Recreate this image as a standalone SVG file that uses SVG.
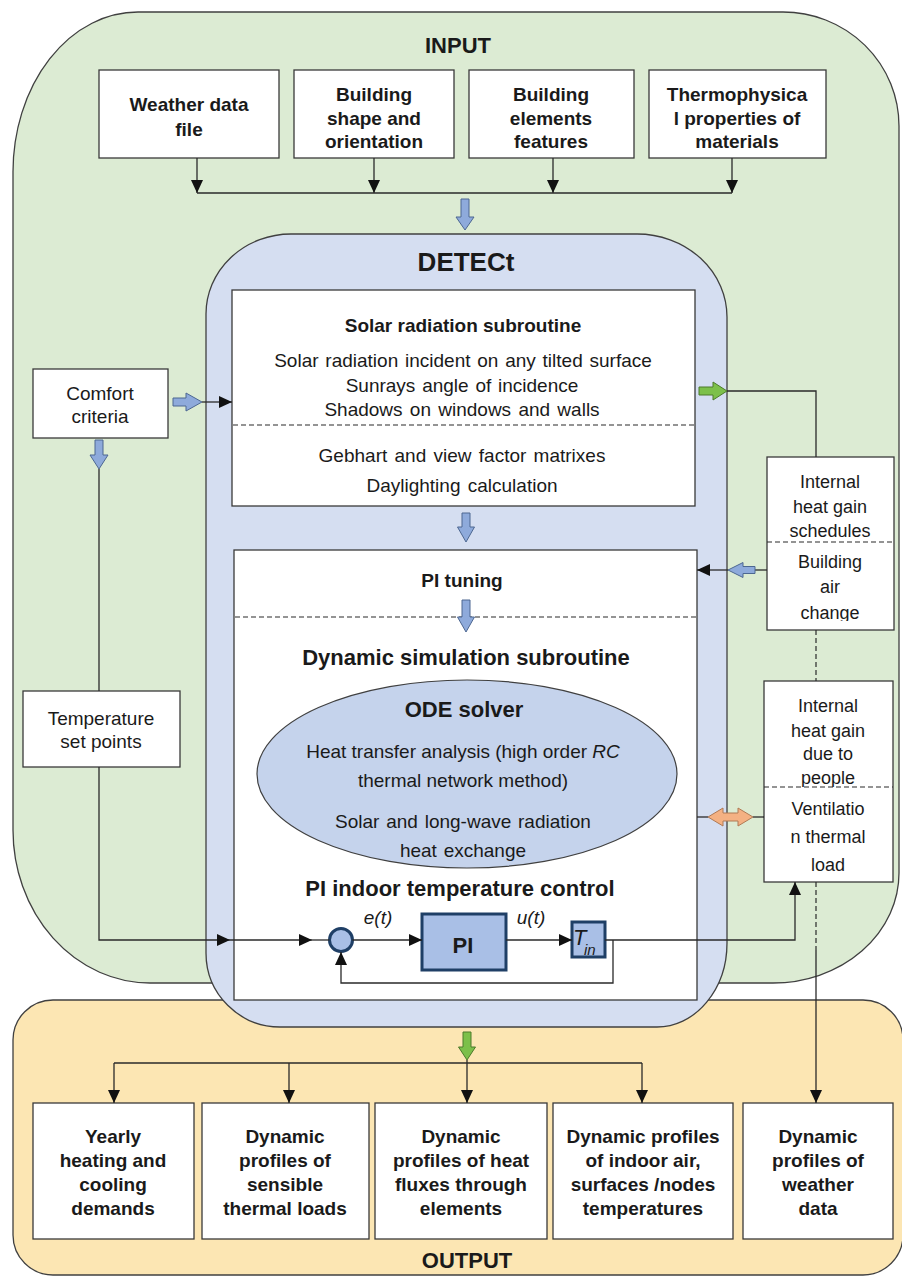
<svg xmlns="http://www.w3.org/2000/svg" width="902" height="1277" viewBox="0 0 902 1277">
<defs>
<style>
text{font-family:"Liberation Sans",Arial,sans-serif;fill:#1a1a1a}
.c{text-anchor:middle}
.b{font-weight:bold}
.i{font-style:italic}
.s18{font-size:18px}
.s19{font-size:19px}
.s22{font-size:22px}
.box{fill:#fff;stroke:#3a3a3a;stroke-width:1.3}
.ln{fill:none;stroke:#2a2a2a;stroke-width:1.3}
.dash{fill:none;stroke:#2a2a2a;stroke-width:1.2;stroke-dasharray:5 3}
.reg{stroke:#404040;stroke-width:1.3}
.ba{fill:#8eaadb;stroke:#4d6791;stroke-width:1}
.ga{fill:#7cc04a;stroke:#4c7a2b;stroke-width:1}
.oa{fill:#f4b183;stroke:#b07a55;stroke-width:1}
.ctl{fill:#a9bfe6;stroke:#1f3f66;stroke-width:3}
</style>
<marker id="ah" markerWidth="13" markerHeight="12" refX="13" refY="6" orient="auto" markerUnits="userSpaceOnUse"><path d="M0,0 L13,6 L0,12 Z" fill="#111"/></marker>
<clipPath id="r1a"><rect x="767" y="457" width="127" height="85"/></clipPath>
<clipPath id="r1b"><rect x="767" y="542" width="127" height="79"/></clipPath>
<clipPath id="r2a"><rect x="764" y="681" width="129" height="106"/></clipPath>
<clipPath id="r2b"><rect x="764" y="787" width="129" height="85"/></clipPath>
</defs>
<rect width="902" height="1277" fill="#fff"/>

<g id="regions">
<path id="input-region" class="reg" fill="#dcebd3" d="M138 12 H783 A116 114 0 0 1 899 126 V873 A126 110 0 0 1 773 983 H150 A137 153 0 0 1 13 830 V172 A125 160 0 0 1 138 12 Z"/>
<path id="output-region" class="reg" fill="#fce6b3" d="M53 1000 H863 A40 40 0 0 1 903 1040 V1235 A40 40 0 0 1 863 1275 H53 A40 40 0 0 1 13 1235 V1040 A40 40 0 0 1 53 1000 Z"/>
<path id="detect-region" class="reg" fill="#d5def1" d="M291 234 H637 A90 83 0 0 1 727 317 V943 A70 84 0 0 1 657 1027 H280 A74 74 0 0 1 206 953 V314 A85 80 0 0 1 291 234 Z"/>
<text class="c b s22" x="458" y="53">INPUT</text>
<text class="c b s22" x="467" y="1268">OUTPUT</text>
<text class="c b" x="466" y="271" font-size="26">DETECt</text>
</g>

<g id="in-weather"><rect class="box" x="99" y="70" width="180" height="88"/>
<text class="c b s19" x="189" y="111">Weather data</text><text class="c b s19" x="189" y="136">file</text></g>
<g id="in-shape"><rect class="box" x="294" y="70" width="160" height="88"/>
<text class="c b s19" x="374" y="101">Building</text><text class="c b s19" x="374" y="125">shape and</text><text class="c b s19" x="374" y="148">orientation</text></g>
<g id="in-elements"><rect class="box" x="469" y="70" width="165" height="88"/>
<text class="c b s19" x="551" y="101">Building</text><text class="c b s19" x="551" y="125">elements</text><text class="c b s19" x="551" y="148">features</text></g>
<g id="in-thermo"><rect class="box" x="649" y="70" width="177" height="88"/>
<text class="c b s19" x="737" y="101">Thermophysica</text><text class="c b s19" x="737" y="125">l properties of</text><text class="c b s19" x="737" y="148">materials</text></g>

<g id="comfort"><rect class="box" x="33" y="369" width="135" height="69"/>
<text class="c s19" x="100" y="400">Comfort</text><text class="c s19" x="100" y="423">criteria</text></g>
<g id="setpoints"><rect class="box" x="23" y="691" width="157" height="76"/>
<text class="c s19" x="101" y="725">Temperature</text><text class="c s19" x="101" y="748">set points</text></g>

<g id="solar"><rect class="box" x="232" y="290" width="463" height="216"/>
<text class="c b s19" x="463" y="332">Solar radiation subroutine</text>
<text class="c s19" x="463" y="367" word-spacing="1.5">Solar radiation  incident on any tilted surface</text>
<text class="c s19" x="462" y="392" word-spacing="1.5">Sunrays angle of incidence</text>
<text class="c s19" x="462" y="416" word-spacing="2">Shadows on windows and walls</text>
<path class="dash" d="M233 425 H694"/>
<text class="c s19" x="462" y="462" word-spacing="2">Gebhart and view factor matrixes</text>
<text class="c s19" x="462" y="492" word-spacing="2">Daylighting calculation</text></g>

<g id="simulation"><rect class="box" x="234" y="550" width="463" height="450"/>
<text class="c b s19" x="462" y="587">PI tuning</text>
<path class="dash" d="M235 617 H696"/>
<text class="c b s22" x="466" y="665">Dynamic simulation subroutine</text>
<g id="ode"><ellipse cx="467" cy="774" rx="210" ry="94" fill="#c5d3ec" stroke="#404040" stroke-width="1.2"/>
<text class="c b s22" x="464" y="717">ODE solver</text>
<text class="c s19" x="463" y="758">Heat transfer analysis (high order <tspan class="i">RC</tspan></text>
<text class="c s19" x="463" y="787">thermal network method)</text>
<text class="c s19" x="463" y="828" word-spacing="1.5">Solar and long-wave radiation</text>
<text class="c s19" x="463" y="857" word-spacing="1.5">heat exchange</text></g>
<text class="c b s22" x="460" y="896">PI indoor temperature control</text>
<g id="sum"><circle class="ctl" cx="341" cy="940" r="11.5"/></g>
<g id="pi"><rect class="ctl" x="422" y="914" width="84" height="56"/>
<text class="c b s22" x="463" y="953">PI</text></g>
<g id="tin"><rect class="ctl" x="572" y="922" width="33" height="35"/>
<text class="i" x="573" y="945" font-size="22">T</text><text class="i" x="584" y="955" font-size="15">in</text></g>
<text class="c i s19" x="378" y="924">e(t)</text>
<text class="c i s19" x="531" y="924">u(t)</text></g>

<g id="gains-schedules"><rect class="box" x="767" y="457" width="127" height="173"/>
<g clip-path="url(#r1a)"><text class="c s18" x="830" y="488">Internal</text><text class="c s18" x="830" y="513">heat gain</text><text class="c s18" x="830" y="537">schedules</text></g>
<path class="dash" d="M767 542 H894"/>
<g clip-path="url(#r1b)"><text class="c s18" x="830" y="568">Building</text><text class="c s18" x="830" y="593">air</text><text class="c s18" x="830" y="619">change</text></g></g>

<g id="gains-people"><rect class="box" x="764" y="681" width="129" height="201"/>
<g clip-path="url(#r2a)"><text class="c s18" x="828" y="712">Internal</text><text class="c s18" x="828" y="737">heat gain</text><text class="c s18" x="828" y="760">due to</text><text class="c s18" x="828" y="784">people</text></g>
<path class="dash" d="M764 787 H893"/>
<g clip-path="url(#r2b)"><text class="c s18" x="828" y="815">Ventilatio</text><text class="c s18" x="828" y="843">n thermal</text><text class="c s18" x="828" y="871">load</text></g></g>

<g id="out-yearly"><rect class="box" x="33" y="1103" width="161" height="136"/>
<text class="c b s19" x="113" y="1143">Yearly</text><text class="c b s19" x="113" y="1167">heating and</text><text class="c b s19" x="113" y="1191">cooling</text><text class="c b s19" x="113" y="1215">demands</text></g>
<g id="out-loads"><rect class="box" x="202" y="1103" width="167" height="136"/>
<text class="c b s19" x="285" y="1143">Dynamic</text><text class="c b s19" x="285" y="1167">profiles of</text><text class="c b s19" x="285" y="1191">sensible</text><text class="c b s19" x="285" y="1215">thermal loads</text></g>
<g id="out-fluxes"><rect class="box" x="375" y="1103" width="172" height="136"/>
<text class="c b s19" x="461" y="1143">Dynamic</text><text class="c b s19" x="461" y="1167">profiles of heat</text><text class="c b s19" x="461" y="1191">fluxes through</text><text class="c b s19" x="461" y="1215">elements</text></g>
<g id="out-temps"><rect class="box" x="553" y="1103" width="180" height="136"/>
<text class="c b s19" x="643" y="1143">Dynamic profiles</text><text class="c b s19" x="643" y="1167">of indoor air,</text><text class="c b s19" x="643" y="1191">surfaces /nodes</text><text class="c b s19" x="643" y="1215">temperatures</text></g>
<g id="out-weather"><rect class="box" x="743" y="1103" width="150" height="136"/>
<text class="c b s19" x="818" y="1143">Dynamic</text><text class="c b s19" x="818" y="1167">profiles of</text><text class="c b s19" x="818" y="1191">weather</text><text class="c b s19" x="818" y="1215">data</text></g>

<g id="connectors">
<path class="ln" d="M197 158 V193" marker-end="url(#ah)"/>
<path class="ln" d="M374 158 V193" marker-end="url(#ah)"/>
<path class="ln" d="M553 158 V193" marker-end="url(#ah)"/>
<path class="ln" d="M732 158 V193" marker-end="url(#ah)"/>
<path class="ln" d="M197 193 H732"/>
<path class="ba" d="M461 199 H469 V217 H474 L465 230 L456 217 H461 Z"/>
<path class="ba" d="M462 513 H470 V527 H474.5 L466 542 L457.5 527 H462 Z"/>
<path class="ba" d="M462 600 H470 V617 H474.5 L466 632 L457.5 617 H462 Z"/>
<path class="ba" d="M173 398 H186 V393 L202 402 L186 411 V406 H173 Z"/>
<path class="ln" d="M202 402 H232" marker-end="url(#ah)"/>
<path class="ba" d="M95 440 H103 V455 H108 L99 469 L90 455 H95 Z"/>
<path class="ln" d="M99 469 V691"/>
<path class="ln" d="M99 767 V940 H230" marker-end="url(#ah)"/>
<path class="ln" d="M230 940 H312" marker-end="url(#ah)"/>
<path class="ln" d="M312 940 H329.5"/>
<path class="ln" d="M352.5 940 H422" marker-end="url(#ah)"/>
<path class="ln" d="M506 940 H572" marker-end="url(#ah)"/>
<path class="ln" d="M613 940 V983 H341 V952" marker-end="url(#ah)"/>
<path class="ln" d="M605 940 H795 V882" marker-end="url(#ah)"/>
<path class="ga" d="M699 387 H713 V382 L727 391 L713 400 V395 H699 Z"/>
<path class="ln" d="M727 391 H816 V457"/>
<path class="ln" d="M767 570 H755"/>
<path class="ba" d="M755 566.5 H743 V562.5 L728 570 L743 577.5 V573.5 H755 Z"/>
<path class="ln" d="M728 570 H697" marker-end="url(#ah)"/>
<path class="dash" d="M816 630 V681"/>
<path class="ln" d="M697 817 H708"/>
<path class="oa" d="M708 817 L723 808 V813 H738 V808 L753 817 L738 826 V821 H723 V826 Z"/>
<path class="ln" d="M753 817 H764"/>
<path class="dash" d="M816 882 V950"/>
<path class="ln" d="M816 950 V1103" marker-end="url(#ah)"/>
<path class="ga" d="M463 1032 H471 V1047 H475.5 L467 1060 L458.5 1047 H463 Z"/>
<path class="ln" d="M114 1063 H642"/>
<path class="ln" d="M114 1063 V1103" marker-end="url(#ah)"/>
<path class="ln" d="M289 1063 V1103" marker-end="url(#ah)"/>
<path class="ln" d="M467 1060 V1103" marker-end="url(#ah)"/>
<path class="ln" d="M642 1063 V1103" marker-end="url(#ah)"/>
</g>
</svg>
